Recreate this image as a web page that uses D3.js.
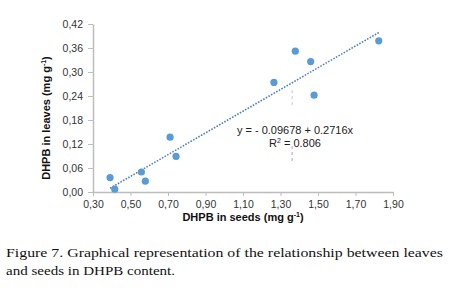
<!DOCTYPE html>
<html>
<head>
<meta charset="utf-8">
<script src="https://cdn.jsdelivr.net/npm/d3@7"></script>
<style>
  body { margin: 0; background: #fff; }
  svg { display: block; }
</style>
</head>
<body>
<svg width="453" height="292"></svg>
<script>
// seeds (x) vs leaves (y), DHPB content in mg g-1
const seeds  = [0.391, 0.416, 0.558, 0.579, 0.711, 0.743, 1.265, 1.379, 1.461, 1.479, 1.824];
const leaves = [0.036, 0.007, 0.050, 0.027, 0.137, 0.089, 0.274, 0.352, 0.326, 0.242, 0.378];
const xTicks = [0.30, 0.50, 0.70, 0.90, 1.10, 1.30, 1.50, 1.70, 1.90];
const yTicks = [0.00, 0.06, 0.12, 0.18, 0.24, 0.30, 0.36, 0.42];
const intercept = -0.09678, slope = 0.2716;
const caption = ["Figure 7. Graphical representation of the relationship between leaves",
                 "and seeds in DHPB content."];

const svg = d3.select("svg");
const fmt = d => d.toFixed(2).replace(".", ",");

const x = d3.scaleLinear().domain([0.3, 1.9]).range([93, 393]);
const y = d3.scaleLinear().domain([0, 0.42]).range([192, 24]);

const axisCol = "#bdbdbd", textCol = "#333";

// x axis
const gx = svg.append("g").attr("transform", `translate(0,${y(0)})`)
    .call(d3.axisBottom(x).tickValues(xTicks).tickFormat(fmt).tickSize(4).tickSizeOuter(0));
gx.select(".domain").attr("stroke", axisCol).attr("stroke-width", 1.5);
gx.selectAll(".tick line").attr("stroke", axisCol);
gx.selectAll("text").attr("fill", textCol).attr("font-family", "Liberation Sans, Arial, sans-serif")
    .attr("font-size", 10.5).attr("dy", "0.9em");

// y axis
const gy = svg.append("g").attr("transform", `translate(${x(0.3)},0)`)
    .call(d3.axisLeft(y).tickValues(yTicks).tickFormat(fmt).tickSize(5).tickSizeOuter(0));
gy.select(".domain").attr("stroke", axisCol).attr("stroke-width", 1.5);
gy.selectAll(".tick line").attr("stroke", axisCol);
gy.selectAll("text").attr("fill", textCol).attr("font-family", "Liberation Sans, Arial, sans-serif")
    .attr("font-size", 10.5).attr("x", -10);

// faint leftover guide marks
svg.append("line").attr("x1", x(1.362)).attr("x2", x(1.362)).attr("y1", y(0.255)).attr("y2", y(0.21))
    .attr("stroke", "#c8c8c8").attr("stroke-dasharray", "3,3");
svg.append("line").attr("x1", x(1.362)).attr("x2", x(1.362)).attr("y1", y(0.115)).attr("y2", y(0.075))
    .attr("stroke", "#aaa").attr("stroke-dasharray", "3,3");

// trend line
const xr = d3.extent(seeds);
svg.append("line")
    .attr("x1", x(xr[0])).attr("y1", y(intercept + slope * xr[0]))
    .attr("x2", x(xr[1])).attr("y2", y(intercept + slope * xr[1]))
    .attr("stroke", "#4f81bd").attr("stroke-width", 1.6).attr("stroke-dasharray", "1.6,1.4");

// points
svg.selectAll(".dot").data(seeds).enter().append("circle")
    .attr("class", "dot")
    .attr("cx", d => x(d))
    .attr("cy", (d, i) => y(leaves[i]))
    .attr("r", 3.6)
    .attr("fill", "#5b9bd5");

// equation
const eq = svg.append("text").attr("font-family", "Liberation Sans, Arial, sans-serif")
    .attr("font-size", 11).attr("fill", "#222").attr("text-anchor", "middle");
eq.append("tspan").attr("x", 295).attr("y", 134).text("y = - 0.09678 + 0.2716x");
const r2 = eq.append("tspan").attr("x", 295).attr("y", 147);
r2.append("tspan").text("R");
r2.append("tspan").attr("dy", -4).attr("font-size", 7).text("2");
r2.append("tspan").attr("dy", 4).text(" = 0.806");

// axis titles
const title = svg.append("g").attr("font-family", "Liberation Sans, Arial, sans-serif")
    .attr("font-weight", "bold").attr("font-size", 11).attr("fill", "#111");
const xt = title.append("text").attr("x", 243).attr("y", 221).attr("text-anchor", "middle");
xt.append("tspan").text("DHPB in seeds (mg g");
xt.append("tspan").attr("dy", -4).attr("font-size", 7).text("-1");
xt.append("tspan").attr("dy", 4).text(")");
const yt = title.append("text").attr("transform", "translate(50,118) rotate(-90)").attr("text-anchor", "middle");
yt.append("tspan").text("DHPB in leaves (mg g");
yt.append("tspan").attr("dy", -4).attr("font-size", 7).text("-1");
yt.append("tspan").attr("dy", 4).text(")");

// caption
const cap = svg.append("g").attr("font-family", "Liberation Serif, serif").attr("font-size", 13).attr("fill", "#111");
cap.append("text").attr("x", 6).attr("y", 257).attr("textLength", 437).attr("lengthAdjust", "spacingAndGlyphs").text(caption[0]);
cap.append("text").attr("x", 6).attr("y", 275).attr("textLength", 169).attr("lengthAdjust", "spacingAndGlyphs").text(caption[1]);
</script>
</body>
</html>
